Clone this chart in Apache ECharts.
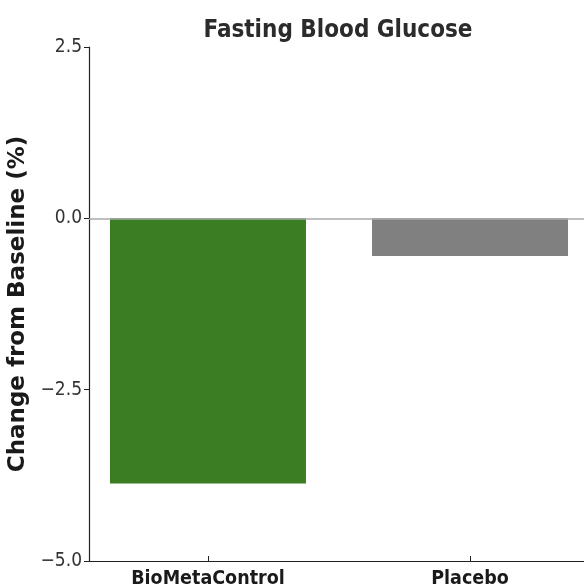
<!DOCTYPE html>
<html lang="en">
<head>
<meta charset="UTF-8">
<style>
  html, body { height: 100%; margin: 0; background: #fff; }
</style>
</head>
<body>
<div id="chart" style="width:584px;height:586px;"></div>
<script src="https://cdn.jsdelivr.net/npm/echarts@6/dist/echarts.min.js"></script>
<script>
var categories = ['BioMetaControl', 'Placebo'];
var changes = [-3.87, -0.55];
var barColors = ['#3a7d22', '#808080'];
var yTicks = [-5, -2.5, 0, 2.5];

var myChart = echarts.init(document.getElementById('chart'));

var barData = categories.map(function (c, i) {
    return { value: [i, changes[i]], itemStyle: { color: barColors[i] } };
});

myChart.setOption({
    animation: false,
    title: {
        text: 'Fasting Blood Glucose',
        left: 333,
        textAlign: 'center',
        top: 14,
        textStyle: {
            fontFamily: 'DejaVu Sans Condensed',
            fontWeight: 'bold',
            fontSize: 24,
            color: '#2b2b2b'
        }
    },
    grid: { left: 89, top: 47, width: 500, height: 514, outerBoundsMode: 'none' },
    xAxis: {
        type: 'value',
        min: -0.454,
        max: 1.454,
        splitLine: { show: false },
        axisLine: { onZero: false, lineStyle: { color: '#222', width: 1.2 } },
        axisTick: { show: true, inside: true, length: 5, customValues: [0, 1], lineStyle: { color: '#222' } },
        axisLabel: {
            customValues: [0, 1],
            formatter: function (v) { return categories[Math.round(v)]; },
            fontFamily: 'DejaVu Sans Condensed',
            fontWeight: 'bold',
            fontSize: 19.5,
            color: '#1a1a1a',
            margin: 8
        }
    },
    yAxis: {
        type: 'value',
        min: yTicks[0],
        max: yTicks[yTicks.length - 1],
        interval: 2.5,
        name: 'Change from Baseline (%)',
        nameLocation: 'middle',
        nameGap: 52,
        nameTextStyle: {
            fontFamily: 'DejaVu Sans',
            fontWeight: 'bold',
            fontSize: 23,
            color: '#1a1a1a'
        },
        splitLine: { show: false },
        axisLine: { show: true, onZero: false, lineStyle: { color: '#222', width: 1.2 } },
        axisTick: { show: true, length: 5, lineStyle: { color: '#222' } },
        axisLabel: {
            formatter: function (v) { return v.toFixed(1).replace('-', '\u2212'); },
            fontFamily: 'DejaVu Sans Condensed',
            fontSize: 19,
            color: '#333',
            margin: 7
        }
    },
    series: [{
        type: 'bar',
        barWidth: 196,
        data: barData,
        markLine: {
            silent: true,
            symbol: 'none',
            label: { show: false },
            lineStyle: { color: '#aaaaaa', type: 'solid', width: 1.5 },
            data: [{ yAxis: 0 }]
        }
    }]
});
</script>
</body>
</html>
